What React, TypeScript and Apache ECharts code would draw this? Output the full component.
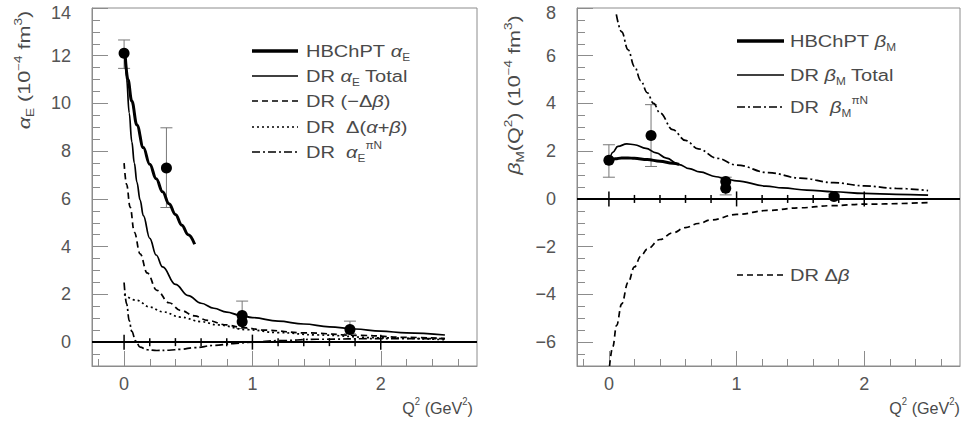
import React, { useEffect, useRef } from "react";
import * as echarts from "echarts";

// ---------------- axis ticks ----------------
const X_MIN = -0.25;
const X_MAX = 2.75;
const xMajorTicks = [0, 1, 2];
const xMinorTicks = [-0.2, 0, 0.2, 0.4, 0.6, 0.8, 1, 1.2, 1.4, 1.6, 1.8, 2, 2.2, 2.4, 2.6];
const zeroLineTicks = [0, 0.2, 0.4, 0.6, 0.8, 1, 1.2, 1.4, 1.6, 1.8, 2];

const alphaYMin = -1;
const alphaYMax = 14;
const alphaYLabels = [0, 2, 4, 6, 8, 10, 12, 14];
const alphaYMinor = [-1, -0.5, 0, 0.5, 1, 1.5, 2, 2.5, 3, 3.5, 4, 4.5, 5, 5.5, 6, 6.5, 7, 7.5, 8, 8.5, 9, 9.5, 10, 10.5, 11, 11.5, 12, 12.5, 13, 13.5, 14];

const betaYMin = -7;
const betaYMax = 8;
const betaYLabels = [-6, -4, -2, 0, 2, 4, 6, 8];
const betaYMinor = [-7, -6.5, -6, -5.5, -5, -4.5, -4, -3.5, -3, -2.5, -2, -1.5, -1, -0.5, 0, 0.5, 1, 1.5, 2, 2.5, 3, 3.5, 4, 4.5, 5, 5.5, 6, 6.5, 7, 7.5, 8];

// ---------------- left panel: alpha_E ----------------
const hbAlphaX = [0.005, 0.03, 0.06, 0.1, 0.15, 0.2, 0.25, 0.3, 0.35, 0.4, 0.45, 0.5, 0.55];
const hbAlphaY = [12.3, 11.0, 10.1, 9.1, 8.15, 7.45, 6.85, 6.3, 5.8, 5.35, 4.9, 4.5, 4.1];

const drAlphaX = [0.005, 0.02, 0.04, 0.06, 0.08, 0.1, 0.125, 0.15, 0.2, 0.25, 0.3, 0.4, 0.5, 0.6, 0.7, 0.8, 0.9, 1.0, 1.2, 1.4, 1.6, 1.8, 2.0, 2.2, 2.5];
const drAlphaY = [12.2, 11.0, 9.6, 8.4, 7.5, 6.7, 5.95, 5.3, 4.35, 3.65, 3.15, 2.42, 1.95, 1.63, 1.42, 1.26, 1.13, 1.03, 0.88, 0.76, 0.64, 0.55, 0.46, 0.39, 0.3];

const negDBetaX = [0.0, 0.02, 0.047, 0.08, 0.125, 0.18, 0.256, 0.35, 0.44, 0.55, 0.65, 0.8, 0.91, 1.1, 1.4, 1.85, 2.2, 2.5];
const negDBetaY = [7.5, 6.6, 5.66, 4.6, 3.7, 2.9, 2.17, 1.65, 1.33, 1.1, 0.91, 0.72, 0.62, 0.5, 0.39, 0.28, 0.2, 0.15];

const dAlphaBetaX = [0, 0.1, 0.2, 0.3, 0.44, 0.6, 0.73, 0.96, 1.2, 1.5, 2.0, 2.5];
const dAlphaBetaY = [2.0, 1.75, 1.47, 1.27, 1.05, 0.86, 0.72, 0.52, 0.4, 0.3, 0.18, 0.1];

const piNAlphaX = [0, 0.02, 0.04, 0.06, 0.09, 0.125, 0.18, 0.256, 0.35, 0.44, 0.55, 0.7, 0.85, 1.0, 1.2, 1.5, 2.0, 2.5];
const piNAlphaY = [2.5, 1.6, 0.9, 0.45, 0.05, -0.21, -0.32, -0.35, -0.34, -0.3, -0.23, -0.14, -0.06, 0.0, 0.06, 0.12, 0.15, 0.15];

const alphaPtsX = [0, 0.33, 0.92, 0.92, 1.76];
const alphaPtsY = [12.1, 7.3, 1.12, 0.85, 0.53];
const alphaErrX = [0, 0.33, 0.92, 1.76];
const alphaErrLo = [11.47, 5.64, 0.57, 0.35];
const alphaErrHi = [12.66, 8.98, 1.72, 0.88];

// ---------------- right panel: beta_M ----------------
const hbBetaX = [0, 0.05, 0.1, 0.15, 0.2, 0.3, 0.4, 0.5, 0.55];
const hbBetaY = [1.6, 1.68, 1.72, 1.72, 1.7, 1.65, 1.58, 1.5, 1.45];

const drBetaX = [0, 0.03, 0.07, 0.14, 0.2, 0.29, 0.37, 0.45, 0.55, 0.63, 0.71, 0.84, 0.92, 1.0, 1.23, 1.36, 1.55, 1.76, 2.0, 2.25, 2.5];
const drBetaY = [1.5, 1.95, 2.2, 2.31, 2.27, 2.12, 1.93, 1.71, 1.44, 1.27, 1.13, 0.93, 0.83, 0.76, 0.54, 0.46, 0.37, 0.3, 0.23, 0.19, 0.16];

const piNBetaX = [0.058, 0.1, 0.15, 0.2, 0.25, 0.3, 0.35, 0.4, 0.5, 0.6, 0.7, 0.85, 1.0, 1.25, 1.5, 1.76, 2.0, 2.25, 2.5];
const piNBetaY = [7.73, 7.0, 6.25, 5.55, 4.95, 4.45, 4.0, 3.6, 2.9, 2.45, 2.1, 1.7, 1.42, 1.1, 0.87, 0.68, 0.55, 0.44, 0.35];

const dBetaX = [0.005, 0.03, 0.06, 0.1, 0.15, 0.2, 0.25, 0.3, 0.4, 0.5, 0.6, 0.7, 0.8, 1.0, 1.25, 1.5, 1.75, 2.0, 2.5];
const dBetaY = [-7.0, -6.2, -5.3, -4.4, -3.5, -2.85, -2.4, -2.1, -1.7, -1.42, -1.2, -1.03, -0.88, -0.65, -0.48, -0.37, -0.28, -0.22, -0.15];

const betaPtsX = [0, 0.33, 0.915, 0.915, 1.763];
const betaPtsY = [1.62, 2.66, 0.73, 0.45, 0.1];
const betaErrX = [0, 0.33, 0.915, 1.763];
const betaErrLo = [0.91, 1.36, 0.17, 0.0];
const betaErrHi = [2.27, 3.95, 0.91, 0.2];

// ---------------- styling ----------------
const FONT = '"Liberation Sans", Arial, Helvetica, sans-serif';
const LBL = "#555555";
const TXT = "#4a4a4a";
const AX = "#8c8c8c";
const ERR = "#777777";

const zip = (xs: number[], ys: number[]) => xs.map((x, i) => [x, ys[i]]);
const zip3 = (xs: number[], a: number[], b: number[]) => xs.map((x, i) => [x, a[i], b[i]]);

const DASH = [6, 4];
const DOT = [2, 3];
const DASHDOT = [8, 3, 2, 3];

function xAxes(grid: number) {
  return [
    {
      gridIndex: grid, type: "value", min: X_MIN, max: X_MAX, position: "bottom",
      axisLine: { show: true, onZero: false, lineStyle: { color: AX, width: 1 } },
      axisTick: { show: true, inside: true, length: 7, customValues: xMinorTicks, lineStyle: { color: AX, width: 1 } },
      axisLabel: { show: true, customValues: xMajorTicks, margin: 9, fontSize: 18, color: LBL, fontFamily: FONT },
      splitLine: { show: false },
    },
    {
      gridIndex: grid, type: "value", min: X_MIN, max: X_MAX, position: "bottom",
      axisLine: { show: false, onZero: false },
      axisTick: { show: true, inside: true, length: 15, customValues: xMajorTicks, lineStyle: { color: AX, width: 1 } },
      axisLabel: { show: false },
      splitLine: { show: false },
    },
  ];
}

function yAxes(grid: number, min: number, max: number, labels: number[], minor: number[]) {
  return [
    {
      gridIndex: grid, type: "value", min, max, position: "left",
      axisLine: { show: true, onZero: false, lineStyle: { color: AX, width: 1 } },
      axisTick: { show: true, inside: true, length: 8, customValues: minor, lineStyle: { color: AX, width: 1 } },
      axisLabel: {
        show: true, customValues: labels, margin: 21, fontSize: 18, color: LBL, fontFamily: FONT,
        formatter: (v: number) => {
          const s = v < 0 ? "\u2212" + Math.abs(v) : String(v);
          return v === max ? "{top|" + s + "}" : s;
        },
        rich: { top: { fontSize: 18, color: LBL, fontFamily: FONT, padding: [10, 0, 0, 0] } },
      },
      splitLine: { show: false },
    },
    {
      gridIndex: grid, type: "value", min, max, position: "left",
      axisLine: { show: false, onZero: false },
      axisTick: { show: true, inside: true, length: 16, customValues: labels, lineStyle: { color: AX, width: 1 } },
      axisLabel: { show: false },
      splitLine: { show: false },
    },
  ];
}

function lineSeries(name: string, xi: number, yi: number, xs: number[], ys: number[], width: number, type: any, extra: any = {}) {
  return {
    name, type: "line", xAxisIndex: xi, yAxisIndex: yi,
    data: zip(xs, ys), showSymbol: false, symbol: "none",
    smooth: 0.4, smoothMonotone: "x", clip: true, silent: true, z: 3,
    lineStyle: { color: "#000", width, type },
    ...extra,
  };
}

function errorSeries(xi: number, yi: number, xs: number[], lo: number[], hi: number[]) {
  return {
    type: "custom", xAxisIndex: xi, yAxisIndex: yi, silent: true, z: 2,
    data: zip3(xs, lo, hi),
    encode: { x: 0, y: [1, 2] },
    renderItem: (_p: any, api: any) => {
      const x = api.value(0);
      const a = api.coord([x, api.value(1)]);
      const b = api.coord([x, api.value(2)]);
      const c = 6;
      const st = { stroke: ERR, lineWidth: 1 };
      return {
        type: "group",
        children: [
          { type: "line", shape: { x1: a[0], y1: a[1], x2: b[0], y2: b[1] }, style: st },
          { type: "line", shape: { x1: a[0] - c, y1: a[1], x2: a[0] + c, y2: a[1] }, style: st },
          { type: "line", shape: { x1: b[0] - c, y1: b[1], x2: b[0] + c, y2: b[1] }, style: st },
        ],
      };
    },
  };
}

function zeroTickSeries(xi: number, yi: number) {
  return {
    type: "custom", xAxisIndex: xi, yAxisIndex: yi, silent: true, z: 4,
    data: zeroLineTicks.map((v) => [v, 0]),
    renderItem: (_p: any, api: any) => {
      const v = api.value(0);
      const p = api.coord([v, api.value(1)]);
      const h = xMajorTicks.indexOf(v) >= 0 ? 7.5 : 4;
      return { type: "line", shape: { x1: p[0], y1: p[1] - h, x2: p[0], y2: p[1] + h }, style: { stroke: "#000", lineWidth: 1.5 } };
    },
  };
}

function scatterSeries(xi: number, yi: number, xs: number[], ys: number[]) {
  return {
    type: "scatter", xAxisIndex: xi, yAxisIndex: yi, data: zip(xs, ys),
    symbol: "circle", symbolSize: 11, silent: true, z: 5,
    itemStyle: { color: "#000", opacity: 1 },
  };
}

const zeroMark = {
  silent: true, symbol: "none", label: { show: false },
  lineStyle: { color: "#000", width: 2, type: "solid" },
  data: [{ yAxis: 0 }],
};

const rich = (size: number) => ({
  g: { fontSize: size, fontStyle: "italic", fontFamily: FONT, fill: TXT },
  sub: { fontSize: Math.round(size * 0.6), fontFamily: FONT, fill: TXT, verticalAlign: "bottom" },
  sup: { fontSize: Math.round(size * 0.6), fontFamily: FONT, fill: TXT, verticalAlign: "top" },
});

function label(x: number, y: number, text: string, size: number, opts: any = {}) {
  return {
    type: "text", x, y, silent: true, z: 10,
    rotation: opts.rotation || 0,
    scaleX: opts.scaleX || 1,
    style: {
      text, fontSize: size, fontFamily: FONT, fill: TXT,
      align: opts.align || "left", verticalAlign: "middle",
      lineHeight: Math.round(size * 1.35),
      rich: rich(size),
    },
  };
}

function legendLine(x1: number, x2: number, y: number, width: number, dash: number[] | null) {
  return {
    type: "line", silent: true, z: 10,
    shape: { x1, y1: y, x2, y2: y },
    style: { stroke: "#000", lineWidth: width, lineDash: dash || undefined },
  };
}

const leftLegend = [
  { y: 51, w: 3.5, dash: null, text: "HBChPT {g|\u03b1}{sub|E}" },
  { y: 76, w: 1.6, dash: null, text: "DR {g|\u03b1}{sub|E} Total" },
  { y: 101, w: 1.6, dash: DASH, text: "DR (\u2212\u0394{g|\u03b2})" },
  { y: 127, w: 1.6, dash: DOT, text: "DR  \u0394({g|\u03b1}+{g|\u03b2})" },
  { y: 152, w: 1.6, dash: DASHDOT, text: "DR  {g|\u03b1}{sub|E}{sup|\u03c0N}" },
];
const rightLegend = [
  { y: 41, w: 3.5, dash: null, text: "HBChPT {g|\u03b2}{sub|M}" },
  { y: 75, w: 1.6, dash: null, text: "DR {g|\u03b2}{sub|M} Total" },
  { y: 107, w: 1.6, dash: DASHDOT, text: "DR  {g|\u03b2}{sub|M}{sup|\u03c0N}" },
  { y: 275, w: 1.6, dash: DASH, text: "DR \u0394{g|\u03b2}" },
];

const graphic: any[] = [];
leftLegend.forEach((r) => {
  graphic.push(legendLine(252, 298, r.y, r.w, r.dash));
  graphic.push(label(306, r.y, r.text, 17, { scaleX: 1.18 }));
});
rightLegend.forEach((r) => {
  graphic.push(legendLine(737, 784, r.y, r.w, r.dash));
  graphic.push(label(790, r.y, r.text, 17, { scaleX: 1.18 }));
});
graphic.push(label(25, 70, "{g|\u03b1}{sub|E} (10{sup|\u22124} fm{sup|3})", 16, { rotation: Math.PI / 2, align: "center", scaleX: 1.35 }));
graphic.push(label(515, 95, "{g|\u03b2}{sub|M}(Q{sup|2}) (10{sup|\u22124} fm{sup|3})", 16, { rotation: Math.PI / 2, align: "center", scaleX: 1.35 }));
graphic.push(label(473, 408, "Q{sup|2} (GeV{sup|2})", 17, { align: "right", scaleX: 0.95 }));
graphic.push(label(960, 408, "Q{sup|2} (GeV{sup|2})", 17, { align: "right", scaleX: 0.95 }));

const option: any = {
  animation: false,
  backgroundColor: "#ffffff",
  grid: [
    { left: 92, top: 8, width: 385, height: 358, show: true, borderColor: AX, borderWidth: 1, backgroundColor: "transparent", outerBoundsMode: "none" },
    { left: 577, top: 8, width: 383, height: 358, show: true, borderColor: AX, borderWidth: 1, backgroundColor: "transparent", outerBoundsMode: "none" },
  ],
  xAxis: [...xAxes(0), ...xAxes(1)],
  yAxis: [
    ...yAxes(0, alphaYMin, alphaYMax, alphaYLabels, alphaYMinor),
    ...yAxes(1, betaYMin, betaYMax, betaYLabels, betaYMinor),
  ],
  series: [
    // left panel
    errorSeries(0, 0, alphaErrX, alphaErrLo, alphaErrHi),
    lineSeries("HBChPT alpha_E", 0, 0, hbAlphaX, hbAlphaY, 3, "solid", { markLine: zeroMark }),
    lineSeries("DR alpha_E Total", 0, 0, drAlphaX, drAlphaY, 1.7, "solid"),
    lineSeries("DR (-Delta beta)", 0, 0, negDBetaX, negDBetaY, 1.7, DASH),
    lineSeries("DR Delta(alpha+beta)", 0, 0, dAlphaBetaX, dAlphaBetaY, 1.7, DOT),
    lineSeries("DR alpha_E piN", 0, 0, piNAlphaX, piNAlphaY, 1.7, DASHDOT),
    zeroTickSeries(0, 0),
    scatterSeries(0, 0, alphaPtsX, alphaPtsY),
    // right panel
    errorSeries(2, 2, betaErrX, betaErrLo, betaErrHi),
    lineSeries("HBChPT beta_M", 2, 2, hbBetaX, hbBetaY, 3, "solid", { markLine: zeroMark }),
    lineSeries("DR beta_M Total", 2, 2, drBetaX, drBetaY, 1.7, "solid"),
    lineSeries("DR beta_M piN", 2, 2, piNBetaX, piNBetaY, 1.7, DASHDOT),
    lineSeries("DR Delta beta", 2, 2, dBetaX, dBetaY, 1.7, DASH),
    zeroTickSeries(2, 2),
    scatterSeries(2, 2, betaPtsX, betaPtsY),
  ],
  graphic,
};

export default function App() {
  const ref = useRef<HTMLDivElement>(null);
  useEffect(() => {
    if (!ref.current) return;
    const chart = echarts.init(ref.current, null, { renderer: "svg" });
    chart.setOption(option);
    return () => chart.dispose();
  }, []);
  return (
    <div
      ref={ref}
      style={{ position: "fixed", left: 0, top: 0, width: 977, height: 431, background: "#fff" }}
    />
  );
}
